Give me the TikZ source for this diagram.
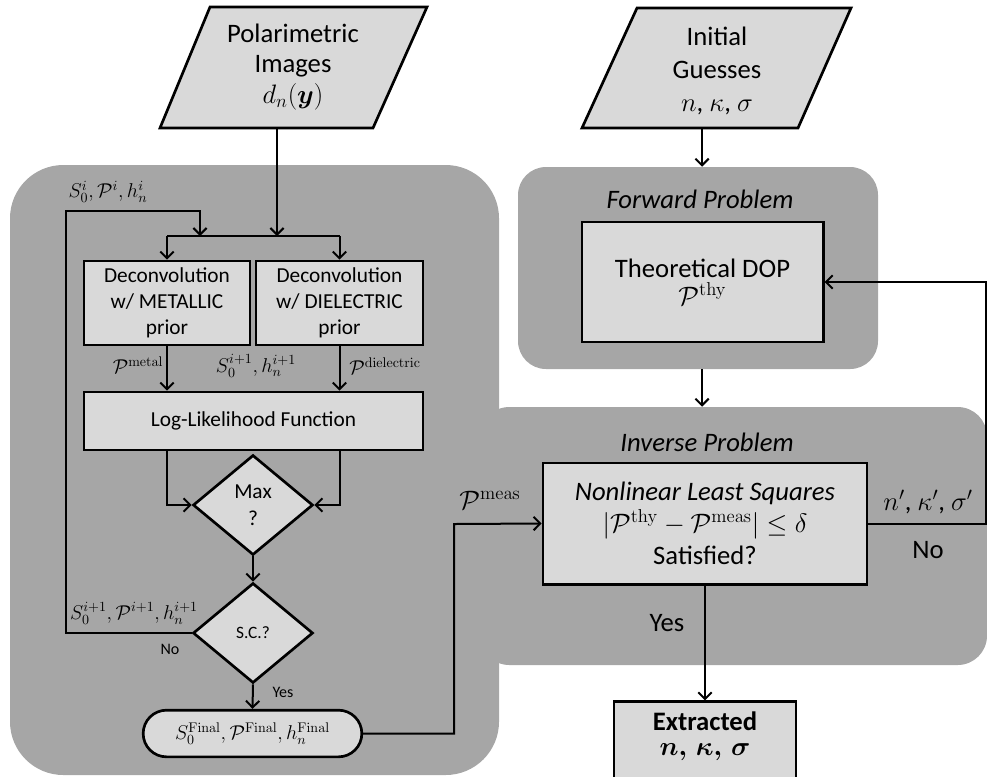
\RequirePackage{fix-cm}
\documentclass[tikz,border=0pt]{standalone}
\usepackage{amsmath,bm}
\usepackage[no-math]{fontspec}
\setmainfont{Carlito}
\usetikzlibrary{arrows.meta,shapes.geometric,shapes.misc}
\definecolor{regiongray}{HTML}{A6A6A6}
\definecolor{boxfill}{HTML}{D9D9D9}
\tikzset{
 region/.style={fill=regiongray, draw=none, inner sep=0pt},
 box/.style={draw, line width=2pt, fill=boxfill, align=center, inner sep=0pt},
 conn/.style={line width=1.5pt, -{Straight Barb[length=5pt,width=10pt]}},
 plain/.style={line width=1.5pt},
 lbl/.style={inner sep=0pt, align=center},
 fbig/.style={font=\fontsize{20}{24}\selectfont},
 fmid/.style={font=\fontsize{16}{19.5}\selectfont},
 fsc/.style={font=\fontsize{13}{15}\selectfont},
 fsmall/.style={font=\fontsize{12}{14}\selectfont},
 fmath/.style={font=\fontsize{15}{18}\selectfont},
}
\begin{document}
\begin{tikzpicture}[x=0.75pt,y=-0.75pt]
\useasboundingbox (0,0) rectangle (987,776);
% regions
\node[region, minimum width=380.25pt, minimum height=193.5pt, rounded corners=22pt] (inv) at (733.5,536) {};
\node[region, minimum width=366.75pt, minimum height=457.5pt, rounded corners=40pt] (left) at (254.5,470) {};
\node[region, minimum width=270pt, minimum height=151.5pt, rounded corners=21pt] (fwd) at (698,268) {};
% parallelograms
\draw[line width=2pt, fill=boxfill] (210,7) -- (427,7) -- (373,128) -- (160,128) -- cycle;
\draw[line width=2pt, fill=boxfill] (637,8) -- (851,8) -- (798,128) -- (582,128) -- cycle;
\node[lbl, font=\fontsize{20}{23}\selectfont] (pol) at (293,67) {Polarimetric\\Images\\$d_n(\bm{y})$};
\node[lbl, font=\fontsize{20}{24.5}\selectfont] (ig) at (717,71) {Initial\\Guesses\\$n$, $\kappa$, $\sigma$};
% titles
\node[lbl, fbig] (fwdt) at (700,199) {\itshape Forward Problem};
\node[lbl, fbig] (invt) at (707,442) {\itshape Inverse Problem};
% left boxes
\node[box, fmid, minimum width=124.5pt, minimum height=63pt] (met) at (167,303) {Deconvolution\\w/ METALLIC\\prior};
\node[box, fmid, minimum width=125.25pt, minimum height=63pt] (die) at (339.5,303) {Deconvolution\\w/ DIELECTRIC\\prior};
\node[box, fmid, minimum width=254.25pt, minimum height=43.5pt] (ll) at (253.5,421) {Log-Likelihood Function};
\node[box, diamond, font=\fontsize{16}{20}\selectfont, minimum width=90pt, minimum height=75pt, aspect=1.2] (max) at (253,505) {Max\\?};
\node[box, diamond, fsc, minimum width=90pt, minimum height=75pt, aspect=1.2] (sc) at (253,633) {S.C.?};
\node[box, rounded rectangle, minimum width=164pt, minimum height=35pt, fmath] (fin) at (252.5,733.5) {$S_0^{\mathrm{Final}},\mathcal{P}^{\mathrm{Final}},h_n^{\mathrm{Final}}$};
% right boxes
\node[box, fbig, minimum width=181pt, minimum height=90pt] (thy) at (702.5,282) {Theoretical DOP\\[-3pt]$\mathcal{P}^{\mathrm{thy}}$};
\node[box, fbig, minimum width=243pt, minimum height=91pt] (nlls) at (705,523.5) {\itshape Nonlinear Least Squares\\$|\mathcal{P}^{\mathrm{thy}}-\mathcal{P}^{\mathrm{meas}}|\leq\delta$\\Satisfied?};
\node[box, minimum width=136.5pt, minimum height=62pt] (ext) at (705,743) {};
\node[lbl, font=\fontsize{20}{19}\selectfont\bfseries] (extt) at (705,736) {Extracted\\$\bm{n}\bm{,}\,\bm{\kappa}\bm{,}\,\bm{\sigma}$};
% labels
\node[lbl, fmath] (li) at (108,192) {$S_0^i,\mathcal{P}^i,h_n^i$};
\node[lbl, fmath] (lmet) at (138,365) {$\mathcal{P}^{\mathrm{metal}}$};
\node[lbl, fmath] (lsh) at (256,366) {$S_0^{i+1},h_n^{i+1}$};
\node[lbl, fmath] (ldie) at (385,366) {$\mathcal{P}^{\mathrm{dielectric}}$};
\node[lbl, fmath] (lip) at (134,613) {$S_0^{i+1},\mathcal{P}^{i+1},h_n^{i+1}$};
\node[lbl, fsmall] (lno) at (170,649) {No};
\node[lbl, fsmall] (lyes) at (283,692) {Yes};
\node[lbl, fbig] (lmeas) at (490,500) {$\mathcal{P}^{\mathrm{meas}}$};
\node[lbl, fbig] (lprime) at (928,502) {$n'$, $\kappa'$, $\sigma'$};
\node[lbl, fbig] (rno) at (928,550) {No};
\node[lbl, fbig] (ryes) at (667,623) {Yes};
% coordinates
\coordinate (polout) at (277,128);
\coordinate (split) at (277,236);
\coordinate (fb1) at (66,211);
\coordinate (fb2) at (200,211);
\coordinate (fbend) at (200,236);
\coordinate (mx) at (454,524);
\coordinate (igout) at (702,128);
\coordinate (rx) at (986,0);
% connectors left
\draw[conn] (polout) -- (split);
\draw[plain] (split -| met.north) -- (split -| die.north);
\draw[conn] (split -| met.north) -- (met.north);
\draw[conn] (split -| die.north) -- (die.north);
\draw[conn] (sc.west) -| (fb1) -- (fb2) -- (fbend);
\draw[conn] (met.south) -- (met.south |- ll.north);
\draw[conn] (die.south) -- (die.south |- ll.north);
\draw[conn] (ll.south -| met.south) |- (max.west);
\draw[conn] (ll.south -| die.south) |- (max.east);
\draw[conn] (max.south) -- (sc.north);
\draw[conn] (sc.south) -- (fin.north);
\draw[conn] (fin.east) -| (mx) -- (nlls.west);
% connectors right
\draw[conn] (igout) -- (igout |- fwd.north);
\draw[conn] (igout |- fwd.south) -- (igout |- inv.north);
\draw[conn] (nlls.south) -- (ext.north);
\draw[conn] (nlls.east) -| (rx |- thy.east) -- (thy.east);
\end{tikzpicture}
\end{document}
